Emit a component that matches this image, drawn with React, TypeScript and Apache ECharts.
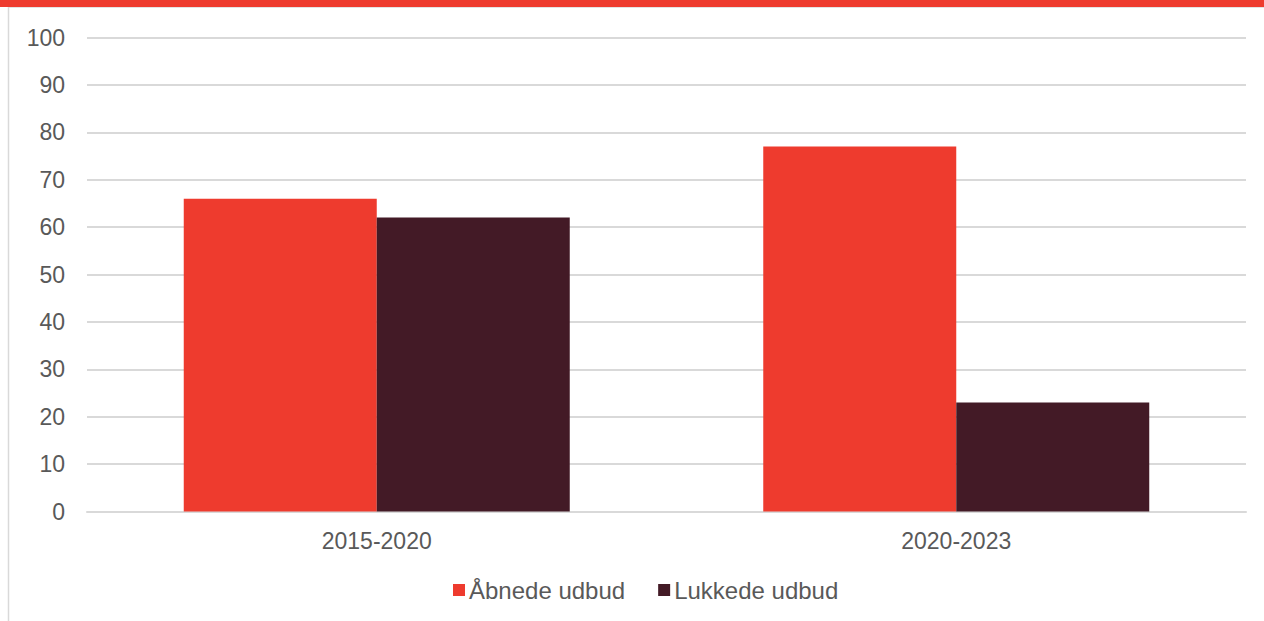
import React, { useEffect, useRef } from "react";
import * as echarts from "echarts";

const categories = ["2015-2020", "2020-2023"];
const seriesNames = ["Åbnede udbud", "Lukkede udbud"];
const openValues = [66, 77];
const closedValues = [62, 23];
const colors = ["#EE3B2E", "#431A26"];

export default function App() {
  const ref = useRef<HTMLDivElement>(null);
  useEffect(() => {
    if (!ref.current) return;
    const chart = echarts.init(ref.current, null, { renderer: "svg" });
    const font = "Liberation Sans, Arial, sans-serif";
    chart.setOption({
      animation: false,
      backgroundColor: "#ffffff",
      textStyle: { fontFamily: font },
      graphic: [
        { type: "rect", shape: { x: 0, y: 0, width: 1264, height: 7 }, style: { fill: "#EE3B2E" } },
        { type: "line", shape: { x1: 8, y1: 7.5, x2: 1264, y2: 7.5 }, style: { stroke: "#e3e3e3", lineWidth: 1 } },
        { type: "line", shape: { x1: 8.5, y1: 7, x2: 8.5, y2: 621 }, style: { stroke: "#d9d9d9", lineWidth: 1.5 } },
      ],
      legend: {
        data: seriesNames,
        bottom: 14,
        left: 448,
        itemWidth: 12,
        itemHeight: 12,
        itemGap: 33,
        icon: "rect",
        textStyle: { color: "#595959", fontSize: 24, fontFamily: font, padding: [0, 0, 0, -1] },
      },
      grid: { left: 87, right: 18, top: 37.5, bottom: 109.5, containLabel: false },
      xAxis: {
        type: "category",
        data: categories,
        axisLine: { show: true, lineStyle: { color: "#d9d9d9", width: 2 } },
        axisTick: { show: false },
        axisLabel: { color: "#595959", fontSize: 23, fontFamily: font, margin: 18 },
      },
      yAxis: {
        type: "value",
        min: 0,
        max: 100,
        interval: 10,
        axisLine: { show: false },
        axisTick: { show: false },
        splitLine: { lineStyle: { color: "#d9d9d9", width: 2 } },
        axisLabel: { color: "#595959", fontSize: 23, fontFamily: font, margin: 22 },
      },
      series: [
        {
          name: seriesNames[0],
          type: "bar",
          data: openValues,
          barWidth: 193,
          barGap: "0%",
          itemStyle: { color: colors[0] },
        },
        {
          name: seriesNames[1],
          type: "bar",
          data: closedValues,
          barWidth: 193,
          barGap: "0%",
          itemStyle: { color: colors[1] },
        },
      ],
    });
    return () => chart.dispose();
  }, []);
  return (
    <div
      ref={ref}
      style={{ position: "absolute", left: 0, top: 0, width: 1264, height: 621 }}
    />
  );
}
